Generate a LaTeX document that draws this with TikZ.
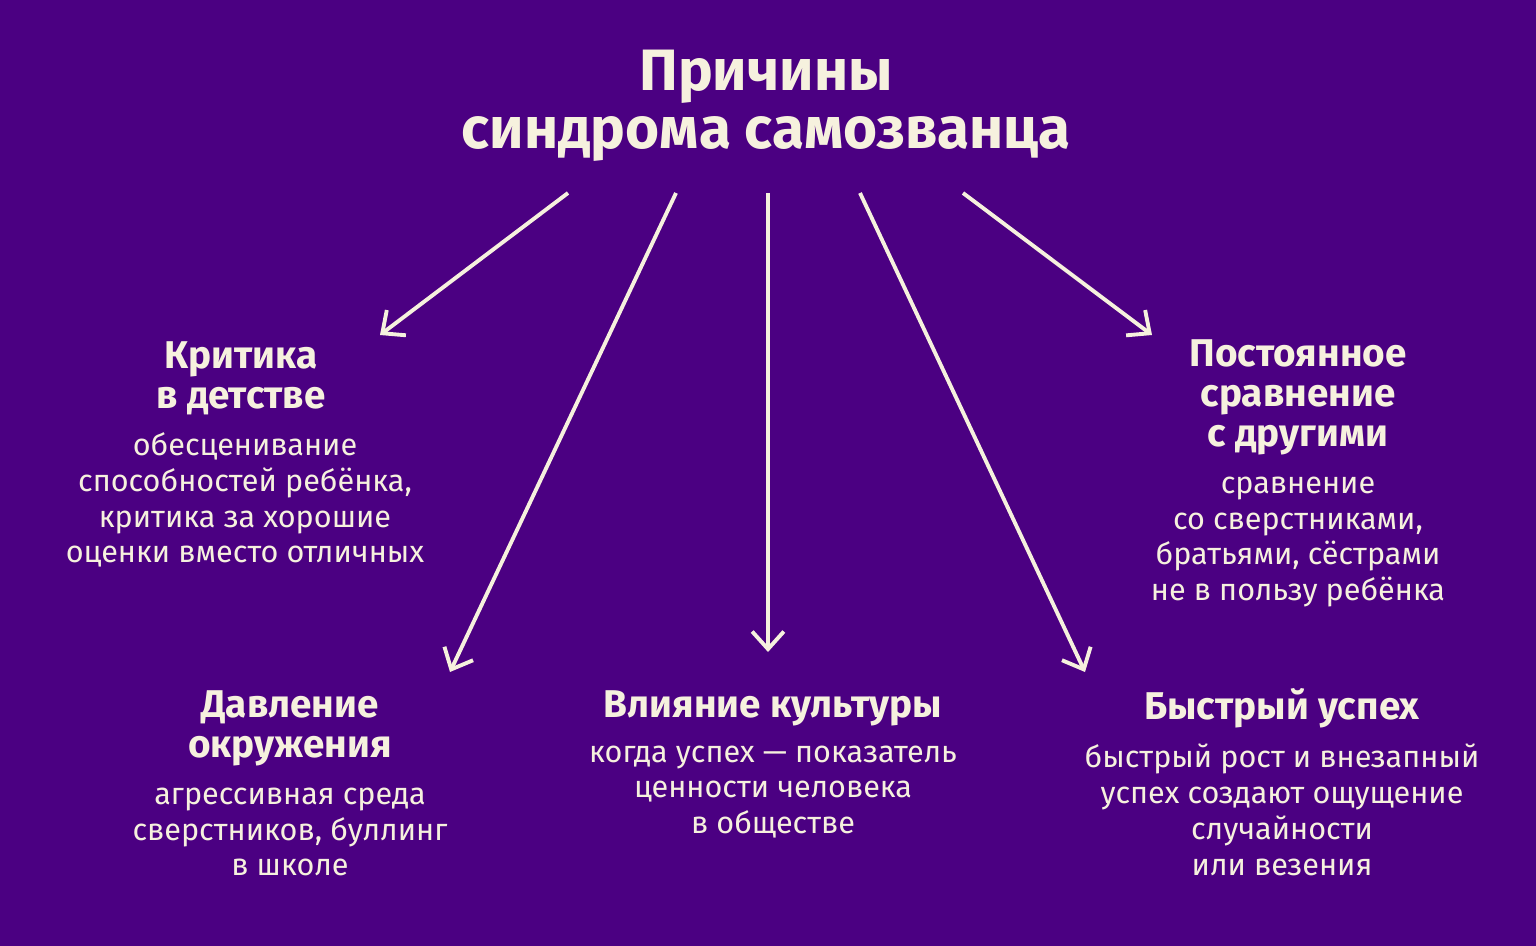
\documentclass[tikz,border=0pt]{standalone}
\usepackage{fontspec}
\setmainfont{Fira Sans}
\usetikzlibrary{arrows.meta}
\definecolor{bgviolet}{HTML}{4B0082}
\definecolor{cream}{HTML}{F6F1DE}
\tikzset{
  head/.style={text=cream, font=\fontsize{11}{11.4}\selectfont\bfseries, align=center},
  body/.style={text=cream, font=\fontsize{8.7}{10.2}\selectfont, align=center},
  link/.style={cream, line width=1.1pt, -{Straight Barb[length=5pt,width=9pt]}}
}
\begin{document}
\begin{tikzpicture}[x=0.01cm, y=-0.01cm]

       \fill [bgviolet]            (0,0) rectangle (1536,946);

        \node [head, font=\fontsize{16.6}{16.6}\selectfont\bfseries] (title) at (766,106) {Причины\\синдрома самозванца};

        \coordinate (s1) at (568,193);
        \coordinate (s2) at (676,193);
        \coordinate (s3) at (768,193);
        \coordinate (s4) at (860,193);
        \coordinate (s5) at (963,193);
        \coordinate (e1) at (380,335);
        \coordinate (e2) at (450,672);
        \coordinate (e3) at (768,652);
        \coordinate (e4) at (1085,672);
        \coordinate (e5) at (1152,335);

        \foreach \i in {1,...,5} { \draw [link] (s\i) -- (e\i); }

        \node [head] (crit) at (241,378) {Критика\\в детстве};
        \node [body] (critb) at (245,500) {обесценивание\\способностей ребёнка,\\критика за хорошие\\оценки вместо отличных};

        \node [head] (press) at (290,728) {Давление\\окружения};
        \node [body] (pressb) at (290,832) {агрессивная среда\\сверстников, буллинг\\в школе};

        \node [head] (cult) at (773,708) {Влияние культуры};
        \node [body] (cultb) at (773,792) {когда успех — показатель\\ценности человека\\в обществе};

        \node [head] (fast) at (1282,708) {Быстрый успех};
        \node [body] (fastb) at (1282,810) {быстрый рост и внезапный\\успех создают ощущение\\случайности\\или везения};

        \node [head] (comp) at (1298,397) {Постоянное\\сравнение\\с другими};
        \node [body] (compb) at (1298,542) {сравнение\\со сверстниками,\\братьями, сёстрами\\не в пользу ребёнка};

     \end{tikzpicture}
\end{document}
